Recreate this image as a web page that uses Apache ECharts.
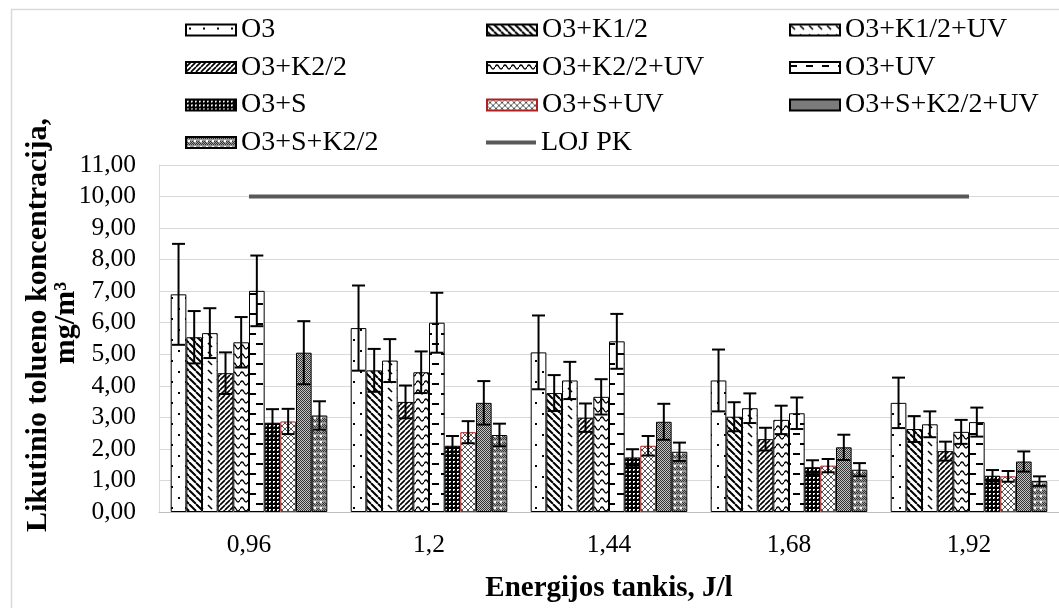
<!DOCTYPE html>
<html>
<head>
<meta charset="utf-8">
<script src="https://cdn.jsdelivr.net/npm/echarts@6/dist/echarts.min.js"></script>
<style>
  html, body { margin: 0; padding: 0; background: #fff; }
  #chart { width: 1059px; height: 608px; }
</style>
</head>
<body>
<div id="chart"></div>
<script>
// data
const categories = ['0,96', '1,2', '1,44', '1,68', '1,92'];
const seriesNames = ['O3', 'O3+K1/2', 'O3+K1/2+UV', 'O3+K2/2', 'O3+K2/2+UV', 'O3+UV',
  'O3+S', 'O3+S+UV', 'O3+S+K2/2+UV', 'O3+S+K2/2'];

const o3 = [6.90, 5.83, 5.06, 4.17, 3.46];
const o3K12 = [5.54, 4.49, 3.77, 3.02, 2.63];
const o3K12UV = [5.67, 4.80, 4.17, 3.29, 2.78];
const o3K22 = [4.40, 3.49, 2.99, 2.31, 1.93];
const o3K22UV = [5.38, 4.43, 3.65, 2.92, 2.54];
const o3UV = [7.01, 6.00, 5.41, 3.13, 2.85];
const o3S = [2.83, 2.10, 1.73, 1.42, 1.15];
const o3SUV = [2.87, 2.53, 2.10, 1.47, 1.13];
const o3SK22UV = [5.05, 3.46, 2.86, 2.05, 1.60];
const o3SK22 = [3.06, 2.44, 1.91, 1.34, 0.98];

const errO3 = [1.60, 1.35, 1.17, 0.98, 0.80];
const errO3K12 = [0.83, 0.68, 0.57, 0.46, 0.41];
const errO3K12UV = [0.79, 0.68, 0.59, 0.47, 0.41];
const errO3K22 = [0.66, 0.52, 0.45, 0.36, 0.30];
const errO3K22UV = [0.80, 0.66, 0.56, 0.45, 0.38];
const errO3UV = [1.12, 0.95, 0.87, 0.50, 0.46];
const errO3S = [0.43, 0.31, 0.26, 0.22, 0.18];
const errO3SUV = [0.40, 0.35, 0.31, 0.21, 0.17];
const errO3SK22UV = [1.00, 0.69, 0.57, 0.40, 0.32];
const errO3SK22 = [0.45, 0.36, 0.29, 0.21, 0.15];

const lojPK = [10, 10, 10, 10, 10];

const barValues = [o3, o3K12, o3K12UV, o3K22, o3K22UV, o3UV, o3S, o3SUV, o3SK22UV, o3SK22];
const barErrors = [errO3, errO3K12, errO3K12UV, errO3K22, errO3K22UV, errO3UV, errO3S, errO3SUV, errO3SK22UV, errO3SK22];

// fill patterns
function tile(w, h, bg, draw) {
  const c = document.createElement('canvas');
  c.width = w; c.height = h;
  const ctx = c.getContext('2d');
  ctx.fillStyle = bg;
  ctx.fillRect(0, 0, w, h);
  ctx.fillStyle = '#000';
  ctx.strokeStyle = '#000';
  draw(ctx, w, h);
  return { image: c, repeat: 'repeat' };
}

function diag(ctx, s, back, lw) {
  ctx.lineWidth = lw;
  ctx.beginPath();
  for (let i = -1; i <= 1; i++) {
    if (back) { ctx.moveTo(i * s, 0); ctx.lineTo(i * s + s, s); }
    else { ctx.moveTo(i * s, s); ctx.lineTo(i * s + s, 0); }
  }
  ctx.stroke();
}

const patterns = [
  tile(14, 21, '#fff', (c) => { c.fillRect(3, 3, 2, 2); c.fillRect(10, 14, 2, 2); }),
  tile(7, 7, '#fff', (c, w) => diag(c, w, true, 2)),
  tile(9, 9, '#fff', (c) => { c.lineWidth = 1.6; c.beginPath(); c.moveTo(1, 1); c.lineTo(5, 5); c.stroke(); }),
  tile(5, 5, '#fff', (c, w) => diag(c, w, false, 1.6)),
  tile(8, 9, '#fff', (c) => {
    c.lineWidth = 1.3; c.beginPath(); c.moveTo(0, 5);
    c.quadraticCurveTo(2, 1, 4, 5); c.quadraticCurveTo(6, 9, 8, 5); c.stroke();
  }),
  tile(16, 20, '#fff', (c) => { c.fillRect(0, 3, 7, 2); c.fillRect(9, 13, 7, 2); }),
  tile(4, 4, '#000', (c) => { c.fillStyle = '#fff'; c.fillRect(1, 1, 2, 2); c.fillStyle = '#555'; c.fillRect(2, 2, 1, 1); }),
  tile(6, 6, '#fff', (c, w) => { c.strokeStyle = '#555'; diag(c, w, true, 1); diag(c, w, false, 1); }),
  tile(2, 2, '#c4c4c4', (c) => { c.fillStyle = '#333'; c.fillRect(0, 0, 1, 1); c.fillRect(1, 1, 1, 1); }),
  tile(6, 6, '#999', (c) => {
    c.fillStyle = '#333'; c.fillRect(0, 0, 1, 1); c.fillRect(2, 0, 1, 1); c.fillRect(4, 0, 1, 1);
    c.fillRect(1, 1, 1, 1); c.fillRect(3, 1, 1, 1); c.fillRect(5, 1, 1, 1);
    c.fillRect(0, 4, 1, 1); c.fillRect(4, 4, 1, 1); c.fillRect(1, 5, 1, 1); c.fillRect(5, 5, 1, 1);
    c.fillStyle = '#fff'; c.fillRect(2, 3, 2, 2);
  })
];
const borderColors = ['#000', '#000', '#000', '#000', '#000', '#000', '#000', '#b02020', '#000', '#000'];

const GAP = 0.13;
const FONT = 'Liberation Serif';

const series = [];
seriesNames.forEach((name, k) => {
  series.push({
    name: name,
    type: 'bar',
    barGap: '0%',
    barCategoryGap: (GAP * 100) + '%',
    data: barValues[k],
    itemStyle: { color: patterns[k], borderColor: borderColors[k], borderWidth: 1 },
    emphasis: { disabled: true },
    z: 2
  });
});

seriesNames.forEach((name, k) => {
  series.push({
    name: name,
    type: 'custom',
    z: 5,
    data: barValues[k].map((v, i) => [i, v - barErrors[k][i], v + barErrors[k][i]]),
    encode: { x: 0, y: [1, 2] },
    renderItem: function (params, api) {
      const catW = api.size([1, 0])[0];
      const bw = catW * (1 - GAP) / seriesNames.length;
      const x = api.coord([api.value(0), 0])[0] + (k - (seriesNames.length - 1) / 2) * bw;
      const lo = api.coord([api.value(0), api.value(1)])[1];
      const hi = api.coord([api.value(0), api.value(2)])[1];
      const cap = 6.5;
      const st = { stroke: '#000', lineWidth: 2 };
      return {
        type: 'group',
        children: [
          { type: 'line', shape: { x1: x, y1: lo, x2: x, y2: hi }, style: st },
          { type: 'line', shape: { x1: x - cap, y1: hi, x2: x + cap, y2: hi }, style: st },
          { type: 'line', shape: { x1: x - cap, y1: lo, x2: x + cap, y2: lo }, style: st }
        ]
      };
    }
  });
});

series.push({
  name: 'LOJ PK',
  type: 'line',
  data: lojPK,
  symbol: 'none',
  lineStyle: { color: '#595959', width: 4 },
  itemStyle: { color: '#595959' },
  z: 6
});

const ROW = 37.5;
const legendBase = {
  orient: 'vertical',
  icon: 'rect',
  padding: 0,
  itemWidth: 50,
  itemHeight: 11,
  itemGap: ROW - 30,
  selectedMode: false,
  textStyle: { fontFamily: FONT, fontSize: 28, color: '#000', lineHeight: 30 }
};

const chart = echarts.init(document.getElementById('chart'));
chart.setOption({
  animation: false,
  backgroundColor: '#fff',
  textStyle: { fontFamily: FONT },
  legend: [
    Object.assign({}, legendBase, { left: 185, top: 15, data: ['O3', 'O3+K2/2', 'O3+S', 'O3+S+K2/2'] }),
    Object.assign({}, legendBase, { left: 486, top: 15, data: ['O3+K1/2', 'O3+K2/2+UV', 'O3+S+UV'] }),
    Object.assign({}, legendBase, { left: 789, top: 15, data: ['O3+K1/2+UV', 'O3+UV', 'O3+S+K2/2+UV'] }),
    Object.assign({}, legendBase, { left: 486, top: 15 + 3 * ROW, itemHeight: 4, data: ['LOJ PK'] })
  ],
  grid: { left: 159, right: -5, top: 165, bottom: 94, containLabel: false },
  xAxis: {
    type: 'category',
    data: categories,
    axisTick: { show: false },
    axisLine: { lineStyle: { color: '#bfbfbf', width: 1 } },
    axisLabel: { fontFamily: FONT, fontSize: 25.5, color: '#000', margin: 20 },
    name: 'Energijos tankis, J/l',
    nameLocation: 'middle',
    nameGap: 62,
    nameTextStyle: { fontFamily: FONT, fontSize: 29, fontWeight: 'bold', color: '#000' }
  },
  yAxis: {
    type: 'value',
    min: 0,
    max: 11,
    interval: 1,
    axisLine: { show: true, lineStyle: { color: '#d9d9d9' } },
    axisTick: { show: false },
    splitLine: { lineStyle: { color: '#d9d9d9', width: 1 } },
    axisLabel: {
      fontFamily: FONT, fontSize: 25.5, color: '#000', margin: 23,
      formatter: (v) => v.toFixed(2).replace('.', ',')
    }
  },
  graphic: [
    {
      type: 'rect', left: 9, top: 7, silent: true, z: -1,
      shape: { width: 1100, height: 700 },
      style: { fill: 'none', stroke: '#d9d9d9', lineWidth: 1.5 }
    },
    {
      type: 'text', x: 38, y: 325, rotation: Math.PI / 2, silent: true,
      style: {
        text: 'Likutinio tolueno koncentracija,', font: 'bold 30px "Liberation Serif"',
        fill: '#000', align: 'center', verticalAlign: 'middle'
      }
    },
    {
      type: 'text', x: 66, y: 323, rotation: Math.PI / 2, silent: true,
      style: {
        text: 'mg/m³', font: 'bold 30px "Liberation Serif"',
        fill: '#000', align: 'center', verticalAlign: 'middle'
      }
    }
  ],
  series: series
});
</script>
</body>
</html>
